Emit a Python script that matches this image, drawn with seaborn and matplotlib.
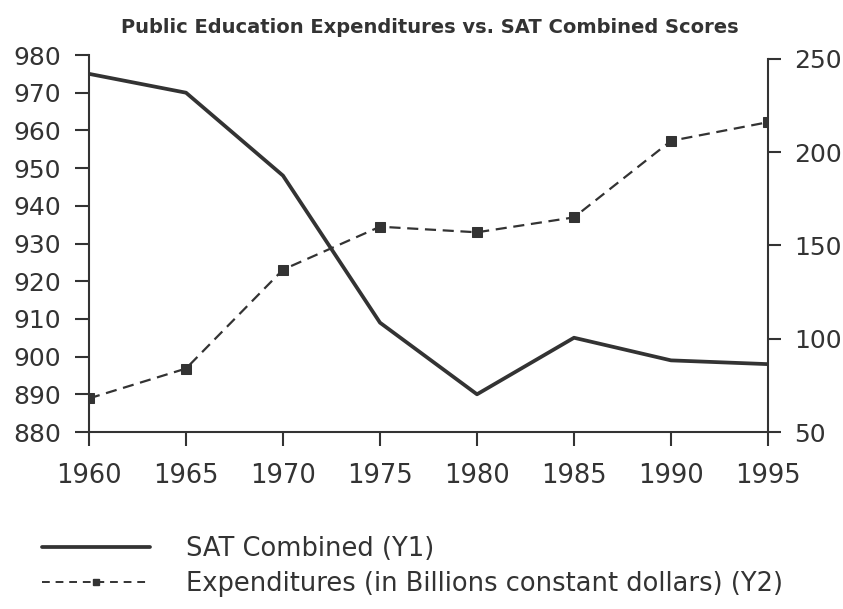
import pandas as pd
import seaborn as sns
import matplotlib.pyplot as plt
from matplotlib.lines import Line2D

# values
years = [1960, 1965, 1970, 1975, 1980, 1985, 1990, 1995]
sat_combined = [975, 970, 948, 909, 890, 905, 899, 898]
expenditures = [68, 84, 137, 160, 157, 165, 206, 216]
x_ticks = [1960, 1965, 1970, 1975, 1980, 1985, 1990, 1995]
y1_ticks = [880, 890, 900, 910, 920, 930, 940, 950, 960, 970, 980]
y2_ticks = [50, 100, 150, 200, 250]

df = pd.DataFrame({'year': years, 'sat': sat_combined, 'exp': expenditures})

sns.set_style('white')
plt.rcParams['font.family'] = ['DejaVu Sans']

ink = '#333333'

fig = plt.figure(figsize=(8.43, 6.09), dpi=100)
ax = fig.add_axes([89 / 843, 1 - 432 / 609, (768 - 89) / 843, (432 - 55) / 609])
ax2 = ax.twinx()

sns.lineplot(data=df, x='year', y='sat', ax=ax, color=ink, linewidth=2.7)
sns.lineplot(data=df, x='year', y='exp', ax=ax2, color=ink, linewidth=1.6,
             linestyle=(0, (5, 3)), marker='s', markersize=7,
             markeredgecolor=ink, markerfacecolor=ink)

ax.set_xlim(1960, 1995)
ax.set_ylim(880, 980)
ax2.set_ylim(50, 252)
ax.set_xticks(x_ticks)
ax.set_yticks(y1_ticks)
ax2.set_yticks(y2_ticks)
ax.set_xlabel('')
ax.set_ylabel('')
ax2.set_ylabel('')

for a in (ax, ax2):
    a.spines['top'].set_visible(False)
    for s in a.spines.values():
        s.set_color(ink)
        s.set_linewidth(1.5)
ax.spines['right'].set_visible(False)
ax2.spines['left'].set_visible(False)
ax2.spines['bottom'].set_visible(False)
ax2.spines['right'].set_bounds(50, 250)

ax.tick_params(axis='x', direction='out', length=10, width=1.5, color=ink,
               labelsize=18.5, labelcolor=ink, pad=12, bottom=True)
ax.tick_params(axis='y', direction='out', length=10, width=1.5, color=ink,
               labelsize=18, labelcolor=ink, pad=10, left=True)
ax2.tick_params(axis='y', direction='out', length=9, width=1.5, color=ink,
                labelsize=18, labelcolor=ink, pad=10, right=True)

fig.text(0.51, 0.955, 'Public Education Expenditures vs. SAT Combined Scores',
         ha='center', va='center', fontsize=14, fontweight='bold', color=ink)

handles = [
    Line2D([], [], color=ink, linewidth=2.7),
    Line2D([], [], color=ink, linewidth=1.4, linestyle=(0, (4, 3)),
           marker='s', markersize=4),
]
labels = ['SAT Combined (Y1)', 'Expenditures (in Billions constant dollars) (Y2)']
fig.legend(handles, labels, loc='upper left', bbox_to_anchor=(0.05, 0.12),
           frameon=False, fontsize=18.5, handlelength=4.2, handletextpad=1.4,
           labelspacing=0.35, borderpad=0, borderaxespad=0, labelcolor=ink)

plt.savefig('out.png', dpi=100)
plt.close()
